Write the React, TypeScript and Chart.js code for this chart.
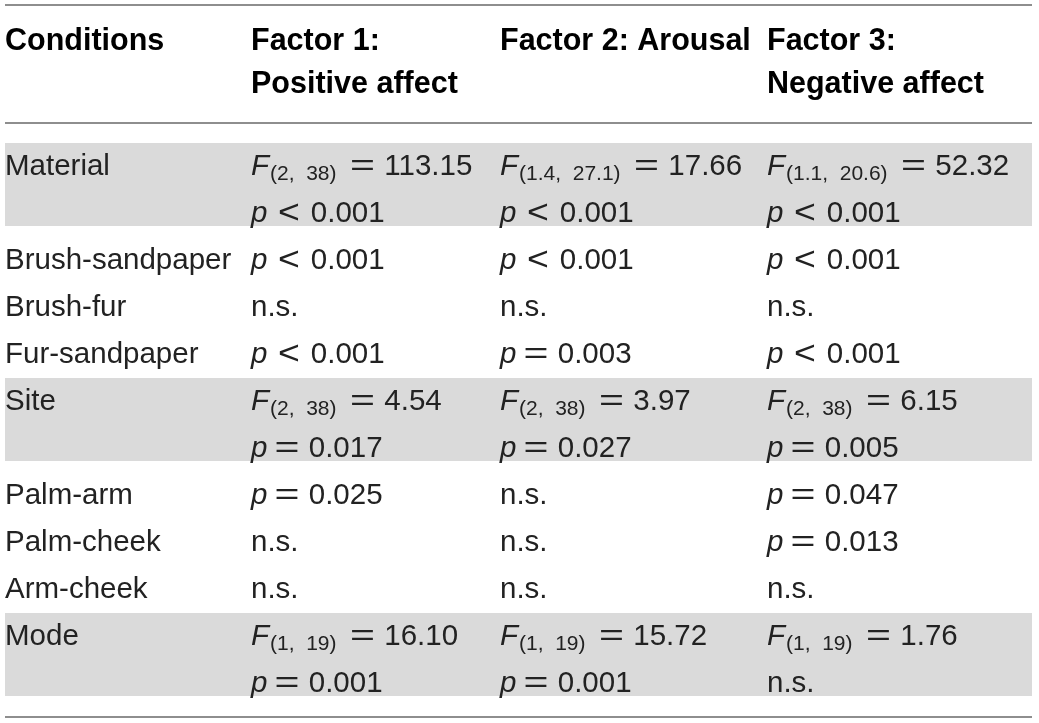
import React, { useEffect, useRef } from "react";
import { Chart, registerables } from "chart.js";

Chart.register(...registerables);

// ---------------- data ----------------
const headerLabels: string[][] = [
  ["Conditions"],
  ["Factor 1:", "Positive affect"],
  ["Factor 2: Arousal"],
  ["Factor 3:", "Negative affect"],
];

const conditions: string[] = [
  "Material",
  "Brush-sandpaper",
  "Brush-fur",
  "Fur-sandpaper",
  "Site",
  "Palm-arm",
  "Palm-cheek",
  "Arm-cheek",
  "Mode",
];

const factor1PositiveAffect: string[][] = [
  ["F(2, 38) = 113.15", "p < 0.001"],
  ["p < 0.001"],
  ["n.s."],
  ["p < 0.001"],
  ["F(2, 38) = 4.54", "p = 0.017"],
  ["p = 0.025"],
  ["n.s."],
  ["n.s."],
  ["F(1, 19) = 16.10", "p = 0.001"],
];

const factor2Arousal: string[][] = [
  ["F(1.4, 27.1) = 17.66", "p < 0.001"],
  ["p < 0.001"],
  ["n.s."],
  ["p = 0.003"],
  ["F(2, 38) = 3.97", "p = 0.027"],
  ["n.s."],
  ["n.s."],
  ["n.s."],
  ["F(1, 19) = 15.72", "p = 0.001"],
];

const factor3NegativeAffect: string[][] = [
  ["F(1.1, 20.6) = 52.32", "p < 0.001"],
  ["p < 0.001"],
  ["n.s."],
  ["p < 0.001"],
  ["F(2, 38) = 6.15", "p = 0.005"],
  ["p = 0.047"],
  ["p = 0.013"],
  ["n.s."],
  ["F(1, 19) = 1.76", "n.s."],
];

const shadedConditions: string[] = ["Material", "Site", "Mode"];

// ---------------- layout / style ----------------
const W = 1039;
const H = 723;
const FONT = '"Liberation Sans", Arial, Helvetica, sans-serif';
const BODY_SIZE = 29.5;
const HEAD_SIZE = 30.5;
const SUB_SIZE = 21;
const SUB_DROP = 5;
const REL_STYLE: Record<string, { size: number; stretch: number; afterP: number; gapAfter: number; dy: number }> = {
  "=": { size: 29.5, stretch: 1.45, afterP: 25, gapAfter: 11, dy: 0 },
  "<": { size: 34, stretch: 1.1, afterP: 28, gapAfter: 12, dy: 1 },
};
const COL_X = [5, 251, 500, 767];
const HEADER_BASELINES = [50, 93];
const FIRST_BASELINE = 175;
const LINE_STEP = 47;
const BAND_ABOVE = 32;
const BAND_BELOW = 4;
const TABLE_LEFT = 5;
const TABLE_RIGHT = 1032;
const RULES_Y = [5, 123, 717];
const RULE_COLOR = "#8e8e8e";
const BAND_COLOR = "#dadada";
const TEXT_COLOR = "#222222";
const HEAD_COLOR = "#000000";

function drawRel(ctx: CanvasRenderingContext2D, sym: string, inkStart: number, base: number): number {
  const st = REL_STYLE[sym];
  ctx.save();
  ctx.font = `${st.size}px ${FONT}`;
  const m = ctx.measureText(sym);
  const inkW = m.actualBoundingBoxRight + m.actualBoundingBoxLeft;
  ctx.translate(inkStart, base + st.dy);
  ctx.scale(st.stretch, 1);
  ctx.fillText(sym, m.actualBoundingBoxLeft, 0);
  ctx.restore();
  return inkStart + inkW * st.stretch + st.gapAfter;
}

function drawCell(ctx: CanvasRenderingContext2D, text: string, x0: number, base: number) {
  let m = text.match(/^F\((.+)\) ([=<]) (.+)$/);
  if (m) {
    ctx.font = `italic ${BODY_SIZE}px ${FONT}`;
    ctx.fillText("F", x0, base);
    let x = x0 + ctx.measureText("F").width + 1;
    ctx.font = `${SUB_SIZE}px ${FONT}`;
    const sub = "(" + m[1].replace(", ", ",  ") + ")";
    ctx.fillText(sub, x, base + SUB_DROP);
    x += ctx.measureText(sub).width;
    const next = drawRel(ctx, m[2], x + 15, base);
    ctx.font = `${BODY_SIZE}px ${FONT}`;
    ctx.fillText(m[3], next, base);
    return;
  }
  m = text.match(/^p ([=<]) (.+)$/);
  if (m) {
    ctx.font = `italic ${BODY_SIZE}px ${FONT}`;
    ctx.fillText("p", x0, base);
    const next = drawRel(ctx, m[1], x0 + REL_STYLE[m[1]].afterP, base);
    ctx.font = `${BODY_SIZE}px ${FONT}`;
    ctx.fillText(m[2], next, base);
    return;
  }
  ctx.font = `${BODY_SIZE}px ${FONT}`;
  ctx.fillText(text, x0, base);
}

const tablePlugin = {
  id: "tableDraw",
  afterDraw(chart: any) {
    const ctx: CanvasRenderingContext2D = chart.ctx;
    const xs = chart.scales.x;
    const ys = chart.scales.y;
    const px = (v: number) => xs.getPixelForValue(v);
    const py = (v: number) => ys.getPixelForValue(v);
    const columns = [factor1PositiveAffect, factor2Arousal, factor3NegativeAffect];

    ctx.save();
    ctx.textBaseline = "alphabetic";
    ctx.textAlign = "left";

    let line = 0;
    const rows = conditions.map((c, i) => {
      const n = Math.max(1, ...columns.map((col) => col[i].length));
      const start = line;
      line += n;
      return { start, n };
    });

    // shaded bands
    rows.forEach((r, i) => {
      if (!shadedConditions.includes(conditions[i])) return;
      const top = py(FIRST_BASELINE + r.start * LINE_STEP - BAND_ABOVE);
      const bot = py(FIRST_BASELINE + (r.start + r.n - 1) * LINE_STEP + BAND_BELOW);
      ctx.fillStyle = BAND_COLOR;
      ctx.fillRect(px(TABLE_LEFT), top, px(TABLE_RIGHT) - px(TABLE_LEFT), bot - top);
    });

    // rules
    ctx.strokeStyle = RULE_COLOR;
    ctx.lineWidth = 2;
    RULES_Y.forEach((yv) => {
      ctx.beginPath();
      ctx.moveTo(px(TABLE_LEFT), py(yv));
      ctx.lineTo(px(TABLE_RIGHT), py(yv));
      ctx.stroke();
    });

    // header
    ctx.fillStyle = HEAD_COLOR;
    ctx.font = `bold ${HEAD_SIZE}px ${FONT}`;
    headerLabels.forEach((lines, ci) => {
      lines.forEach((t, li) => {
        ctx.fillText(t, px(COL_X[ci]), py(HEADER_BASELINES[li]));
      });
    });

    // body
    ctx.fillStyle = TEXT_COLOR;
    rows.forEach((r, i) => {
      const base = (k: number) => py(FIRST_BASELINE + (r.start + k) * LINE_STEP);
      ctx.font = `${BODY_SIZE}px ${FONT}`;
      ctx.fillText(conditions[i], px(COL_X[0]), base(0));
      columns.forEach((col, ci) => {
        col[i].forEach((t, k) => drawCell(ctx, t, px(COL_X[ci + 1]), base(k)));
      });
    });
    ctx.restore();
  },
};

export default function App() {
  const ref = useRef<HTMLCanvasElement>(null);
  useEffect(() => {
    document.body.style.margin = "0";
    const canvas = ref.current;
    if (!canvas) return;
    const chart = new Chart(canvas, {
      type: "scatter",
      data: { datasets: [{ data: [], pointRadius: 0 }] },
      options: {
        animation: false,
        responsive: false,
        devicePixelRatio: 1,
        layout: { padding: 0 },
        scales: {
          x: { type: "linear", min: 0, max: W, display: false },
          y: { type: "linear", min: 0, max: H, reverse: true, display: false },
        },
        plugins: { legend: { display: false }, tooltip: { enabled: false } },
      },
      plugins: [tablePlugin],
    });
    return () => chart.destroy();
  }, []);
  return (
    <div style={{ width: W, height: H, background: "#fff" }}>
      <canvas ref={ref} width={W} height={H} style={{ display: "block" }} />
    </div>
  );
}
